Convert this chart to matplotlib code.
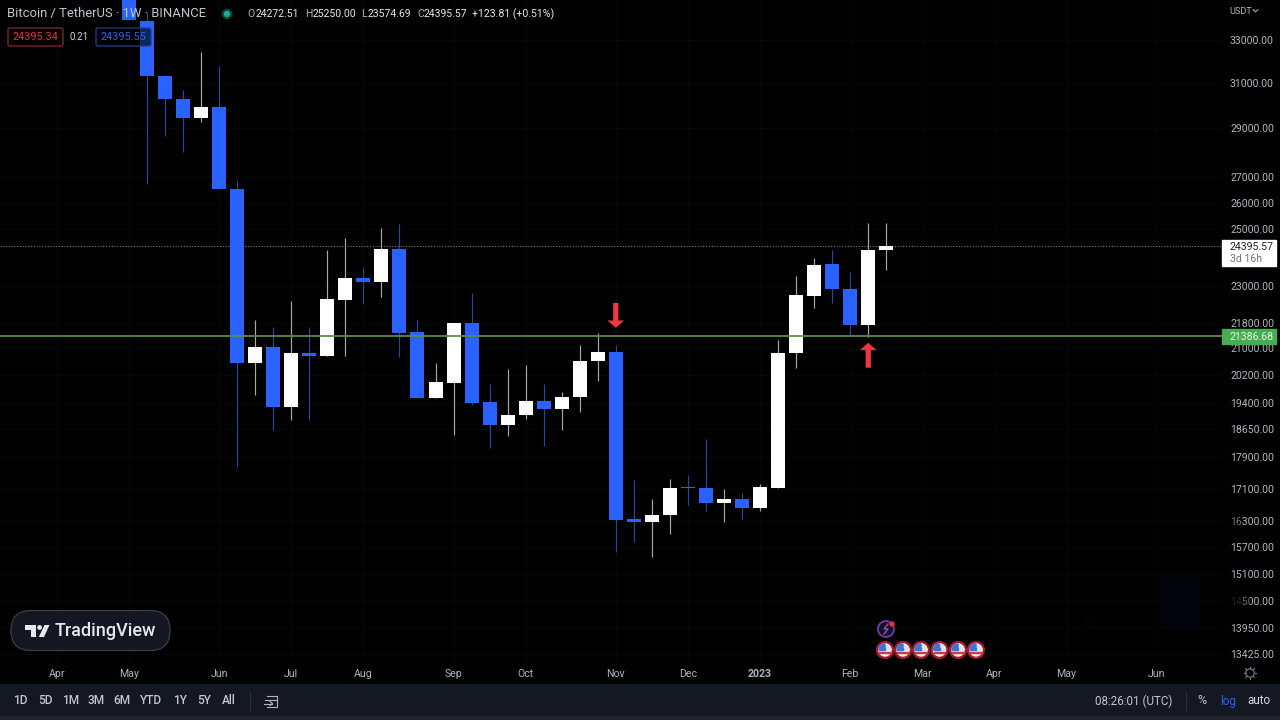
import matplotlib
matplotlib.use('Agg')
import matplotlib.pyplot as plt
import numpy as np
from matplotlib.patches import Circle, FancyBboxPatch, Polygon, Rectangle, Wedge, FancyArrowPatch
from matplotlib.ticker import NullLocator

plt.rcParams['font.family'] = ['Roboto', 'DejaVu Sans']

# weekly candles, first one is the week that starts at the May label
opens = [36200, 33950, 31305, 30269, 29438, 29916, 26529, 20566, 21052, 19285, 20868, 20777, 22547, 23283, 23146,
         24300, 21519, 19539, 19971, 21804, 19425, 18785, 19061, 19453, 19229, 19568, 20625, 20899, 16350, 16278,
         16443, 17130, 17105, 16734, 16832, 16612, 17105, 20868, 22680, 23760, 22914, 21740, 24272.51]
closes = [33981, 31305, 30269, 29438, 29916, 26529, 20566, 21052, 19285, 20868, 20777, 22580, 23283, 23146, 24300,
          21487, 19539, 20000, 21804, 19397, 18785, 19061, 19453, 19229, 19568, 20625, 20899, 16325, 16278, 16443,
          17105, 17105, 16734, 16832, 16612, 17130, 20868, 22713, 23725, 22914, 21740, 24263, 24395.57]
highs = [36500, 34400, 31305, 30670, 32424, 31767, 26880, 21900, 21677, 22515, 21677, 24263, 24691, 23656, 25054,
         25202, 21900, 20566, 21804, 22780, 19942, 20386, 20505, 19942, 19711, 21113, 21487, 21113, 17307, 16832,
         17333, 17434, 18378, 17080, 16981, 17206, 21269, 23350, 23970, 24263, 23488, 25240, 25250]
lows = [33981, 26724, 28671, 28005, 29265, 26529, 17642, 19625, 18622, 18923, 18923, 20777, 20777, 22417, 22646,
        20747, 19539, 19539, 18512, 19340, 18139, 18459, 18950, 18192, 18648, 19145, 20030, 15588, 15808, 15474,
        15994, 16685, 16539, 16278, 16350, 16539, 17105, 20415, 22285, 22450, 21425, 21363, 23574.69]

last_price = 24395.57
level_price = 21386.68

price_ticks = [33000, 31000, 29000, 27000, 26000, 25000, 23000, 21800, 21000, 20200, 19400, 18650, 17900, 17100,
               16300, 15700, 15100, 14500, 13950, 13425]
month_pos = [-4, 0, 5, 9, 13, 18, 22, 27, 31, 35, 40, 44, 48, 52, 57]
month_labels = ['Apr', 'May', 'Jun', 'Jul', 'Aug', 'Sep', 'Oct', 'Nov', 'Dec', '2023', 'Feb', 'Mar', 'Apr', 'May', 'Jun']
ranges = ['1D', '5D', '1M', '3M', '6M', 'YTD', '1Y', '5Y', 'All']
range_x = [20, 45, 71, 96, 122, 151, 180, 204, 229]

BLUE = '#2962ff'
TXT = '#b2b5be'
BAR = '#141823'

fig = plt.figure(figsize=(12.8, 7.2), dpi=100, facecolor='black')
ax = fig.add_axes([0, 1 - 662 / 720, 1222 / 1280, 662 / 720], facecolor='black')

ax.set_yscale('log')
ax.set_xlim((0 - 129) / 18.03, (1222 - 129) / 18.03)
ax.set_ylim(13265, 34991)
ax.grid(color='#07070a', lw=0.8)
ax.set_axisbelow(True)

x = np.arange(len(opens))
o, c, h, l = map(np.array, (opens, closes, highs, lows))
up = c >= o
ax.vlines(x[up], l[up], h[up], color='#a8a8a8', lw=0.85, zorder=3)
ax.vlines(x[~up], l[~up], h[~up], color='#27479c', lw=0.85, zorder=3)
ax.bar(x[up], (c - o)[up], bottom=o[up], width=0.776, color='white', zorder=4)
ax.bar(x[~up], (c - o)[~up], bottom=o[~up], width=0.776, color=BLUE, zorder=4)

ax.axhline(level_price, color='#5b8a4c', lw=1.3, zorder=5)
ax.axhline(last_price, color='#7a7a7a', lw=0.8, ls=(0, (1, 1.5)), zorder=2)

ax.yaxis.tick_right()
ax.set_yticks(price_ticks, labels=['%.2f' % p for p in price_ticks])
ax.yaxis.set_minor_locator(NullLocator())
ax.set_xticks(month_pos, labels=month_labels)
ax.tick_params(axis='y', length=0, pad=5.8, labelsize=7.6, labelcolor=TXT)
ax.tick_params(axis='x', length=0, pad=4.8, labelsize=7.6, labelcolor=TXT)
for t in ax.get_xticklabels():
    if t.get_text() == '2023':
        t.set_fontweight('bold')
for s in ax.spines.values():
    s.set_visible(False)

# red arrows sit on the candles they point at
for xi, y0, y1 in [(27, 22450, 21646), (41, 20415, 21175)]:
    ax.add_patch(FancyArrowPatch((xi, y0), (xi, y1), arrowstyle='simple,head_length=0.48,head_width=1.1,tail_width=0.34',
                                 mutation_scale=11, color='#f23645', lw=0, shrinkA=0, shrinkB=0, zorder=6))

# everything else is chart chrome, laid out in screen pixels
ov = fig.add_axes([0, 0, 1, 1], facecolor='none')
ov.set_xlim(0, 1280)
ov.set_ylim(720, 0)
ov.axis('off')


def label(px, py, s, color=TXT, size=8, ha='left', **kw):
    ov.text(px, py, s, color=color, fontsize=size, ha=ha, va='center', **kw)


# header
label(7, 14, 'Bitcoin / TetherUS · 1W · BINANCE', color='#c4c6cd', size=9.4)
ov.add_patch(Circle((227, 14), 4.5, color='#08493f'))
ov.add_patch(Circle((227, 14), 2.4, color='#13b393'))
for px, s, vx, v in [(247, 'O', 255.5, '24272.51'), (305, 'H', 312.5, '25250.00'),
                     (361, 'L', 368, '23574.69'), (417, 'C', 424, '24395.57')]:
    label(px, 14, s, size=7.5)
    label(vx, 14, v, color='#e8e8ea', size=7.5)
label(472, 14, '+123.81 (+0.51%)', color='#e8e8ea', size=7.6)

ov.add_patch(FancyBboxPatch((8, 28), 55, 18, boxstyle='round,pad=0,rounding_size=2', fc='#000000', ec='#8d2430', lw=0.9))
label(35.5, 37, '24395.34', color='#e0323f', size=7.8, ha='center')
label(79, 37, '0.21', color='#d6d6d8', size=7, ha='center')
ov.add_patch(FancyBboxPatch((96, 28), 55, 18, boxstyle='round,pad=0,rounding_size=2', fc=(0, 0, 0, 0.62), ec='#1f3f91', lw=0.9))
label(123.5, 37, '24395.55', color='#2f62e8', size=7.8, ha='center')

# right scale
label(1241, 11, 'USDT', size=6.6, ha='center')
ov.plot([1253, 1255.5, 1258], [9.5, 12, 9.5], color=TXT, lw=0.7)
ov.add_patch(Rectangle((1222, 240), 54, 26, color='white', zorder=5))
label(1230, 247, '24395.57', color='#20222a', size=7.6, zorder=6)
label(1230, 259, '3d 16h', color='#6f7380', size=7.6, zorder=6)
ov.add_patch(Rectangle((1222, 329), 54, 15, color='#46ad50', zorder=5))
label(1230, 336.5, '21386.68', color='#e6f3e6', size=7.6, zorder=6)

# washed out spots of the source picture
ov.add_patch(Rectangle((1160, 577), 40, 50, color='#03040b', lw=0))
ov.add_patch(Rectangle((1085, 617), 10, 10, color='#040406', lw=0))
ov.add_patch(Rectangle((1228, 595), 13, 12, color='black', alpha=0.8, lw=0))
ov.add_patch(Rectangle((1241, 595), 9, 12, color='black', alpha=0.4, lw=0))
ov.add_patch(Rectangle((1228, 515), 13, 12, color='black', alpha=0.35, lw=0))

# gear in the corner
ov.add_patch(Circle((1250, 673), 4.2, fc='none', ec='#6a6d78', lw=0.9))
for a in np.arange(0, 360, 45):
    r = np.deg2rad(a)
    ov.plot([1250 + 4.2 * np.cos(r), 1250 + 6.2 * np.cos(r)], [673 + 4.2 * np.sin(r), 673 + 6.2 * np.sin(r)],
            color='#6a6d78', lw=0.9)

# logo
ov.add_patch(FancyBboxPatch((11, 610.5), 159, 40, boxstyle='round,pad=0,rounding_size=20', fc='#141722', ec='#3c3f4a', lw=0.9))
ov.add_patch(Polygon([(25, 625), (36, 625), (36, 637), (30.5, 637), (30.5, 630), (25, 630)], color='#e8e8ea', lw=0))
ov.add_patch(Circle((39.6, 627.5), 2.4, color='#e8e8ea', lw=0))
ov.add_patch(Polygon([(44.5, 625), (49.5, 625), (44, 637), (38.8, 637)], color='#e8e8ea', lw=0))
label(55, 631, 'TradingView', color='#e8e8ea', size=13, fontweight='medium')

# economic event badges
ov.add_patch(Circle((886, 629), 8, fc='#14101c', ec='#6b3fa0', lw=1.3))
ov.plot([888, 884, 888, 884], [624, 629, 629, 634], color='#8a4fd0', lw=1)
ov.add_patch(Circle((892, 624), 2, color='#e0323f'))
for fx in [885, 903, 921, 939.5, 958, 976]:
    ov.add_patch(Circle((fx, 650), 8.4, color='#a51d2d'))
    ov.add_patch(Circle((fx, 650), 6, color='#f0f0f4'))
    ov.add_patch(Wedge((fx, 650), 6, 180, 360, color='#e0e0e6'))
    ov.add_patch(Rectangle((fx - 5.6, 651.5), 11.2, 1.6, color='#d03a48'))
    ov.add_patch(Wedge((fx, 650), 6, 180, 270, color='#3f72d8'))
    ov.add_patch(Rectangle((fx - 5.6, 648), 5.6, 2, color='#3f72d8'))

# bottom toolbar
ov.add_patch(Rectangle((0, 684), 1280, 32, color=BAR))
ov.add_patch(Rectangle((0, 716), 1280, 4, color='#20232e'))
for rx, s in zip(range_x, ranges):
    label(rx, 701, s, color='#c4c6cd', size=8.6, ha='center', fontweight='medium')
ov.plot([250, 250], [692, 710], color='#2e323e', lw=0.8)
ov.plot([267, 277, 277, 267], [696, 696, 707, 707], color=TXT, lw=0.8)
ov.plot([265, 277], [699.5, 699.5], color=TXT, lw=0.8)
ov.plot([264, 272], [703.5, 703.5], color=TXT, lw=0.8)
ov.plot([270, 272.5, 270], [701.5, 703.5, 705.5], color=TXT, lw=0.8)
label(1133.5, 701, '08:26:01 (UTC)', color='#c4c6cd', size=8.4, ha='center')
ov.plot([1186, 1186], [692, 710], color='#2e323e', lw=0.8)
label(1202, 701, '%', color='#c4c6cd', size=9, ha='center')
label(1228, 701, 'log', color='#2962ff', size=8.4, ha='center')
label(1259, 701, 'auto', color='#d8d9de', size=8.4, ha='center')

fig.savefig('out.png', dpi=100, facecolor='black')
